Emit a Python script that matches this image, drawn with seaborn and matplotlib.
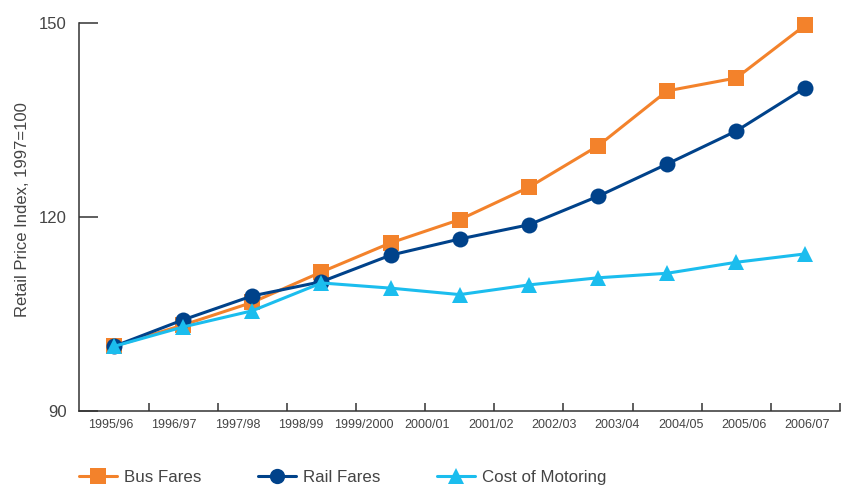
import numpy as np
import pandas as pd
import matplotlib
matplotlib.use("Agg")
import matplotlib.pyplot as plt
import seaborn as sns

# Retail price indices (1997 = 100)
periods = list(range(11))
bus_fares = [100.0, 103.3, 106.8, 111.5, 116.0, 119.6, 124.6, 131.0, 139.5, 141.5, 149.7]
rail_fares = [100.0, 104.1, 107.8, 110.0, 114.1, 116.6, 118.8, 123.2, 128.2, 133.3, 140.0]
cost_of_motoring = [100.0, 103.0, 105.5, 109.8, 109.0, 108.0, 109.5, 110.6, 111.3, 113.0, 114.3]

year_labels = ["1995/96", "1996/97", "1997/98", "1998/99", "1999/2000", "2000/01",
               "2001/02", "2002/03", "2003/04", "2004/05", "2005/06", "2006/07"]
y_ticks = [90, 120, 150]

series_names = ["Bus Fares", "Rail Fares", "Cost of Motoring"]
colors = {"Bus Fares": "#F3822B", "Rail Fares": "#00428A", "Cost of Motoring": "#1BBDEE"}
markers = {"Bus Fares": "s", "Rail Fares": "o", "Cost of Motoring": "^"}

df = pd.concat([
    pd.DataFrame({"period": periods, "index": vals, "series": name})
    for name, vals in zip(series_names, [bus_fares, rail_fares, cost_of_motoring])
])

sns.set_theme(style="white")
plt.rcParams["font.family"] = ["Liberation Sans", "DejaVu Sans"]
text_color = "#444444"

fig = plt.figure(figsize=(8.45, 4.86), dpi=100)
ax = fig.add_axes([79.5 / 845, 1 - 411 / 486, (840 - 79.5) / 845, (411 - 23) / 486])

sns.lineplot(data=df, x="period", y="index", hue="series", style="series",
             hue_order=series_names, style_order=series_names,
             palette=colors, markers=markers, dashes=False,
             linewidth=2.2, markersize=11.5, markeredgewidth=0,
             ax=ax, legend=False)
for line in ax.lines:
    line.set_clip_on(False)

ax.set_xlim(-0.5, 10.5)
ax.set_ylim(90, 150)

# Spines: only left and bottom
for side in ["top", "right"]:
    ax.spines[side].set_visible(False)
for side in ["left", "bottom"]:
    ax.spines[side].set_color("#333333")
    ax.spines[side].set_linewidth(1.1)

# Y axis
ax.set_yticks(y_ticks)
ax.tick_params(axis="y", which="major", direction="in", length=14, width=1.1,
               color="#333333", labelsize=12, labelcolor=text_color, pad=9, left=True)
ax.set_ylabel("Retail Price Index, 1997=100", fontsize=12, color=text_color)
ax.yaxis.set_label_coords(-0.065, 0.519)

# X axis: tick marks at boundaries, labels spread evenly along the axis
ax.set_xticks(np.arange(0.5, 10.6, 1.0))
ax.set_xticklabels([])
ax.set_xticks(np.linspace(-0.05, 10.03, len(year_labels)), minor=True)
ax.set_xticklabels(year_labels, minor=True)
ax.tick_params(axis="x", which="major", direction="in", length=6, width=1.1,
               color="#333333", bottom=True)
ax.tick_params(axis="x", which="minor", length=0, labelsize=9, labelcolor=text_color,
               pad=6, bottom=True)
ax.set_xlabel("")
ax.grid(False)

# Legend along the bottom
handles = [plt.Line2D([], [], color=colors[n], marker=markers[n], linewidth=2.2,
                      markersize=11, markeredgewidth=0) for n in series_names]
fig.legend(handles, series_names, loc="center left", bbox_to_anchor=(79 / 845, 1 - 477 / 486),
           ncol=3, frameon=False, fontsize=12.2, handlelength=2.25, handletextpad=0.4,
           columnspacing=3.35, labelcolor=text_color, borderaxespad=0, borderpad=0)

fig.savefig("out.png", dpi=100, facecolor="white")
